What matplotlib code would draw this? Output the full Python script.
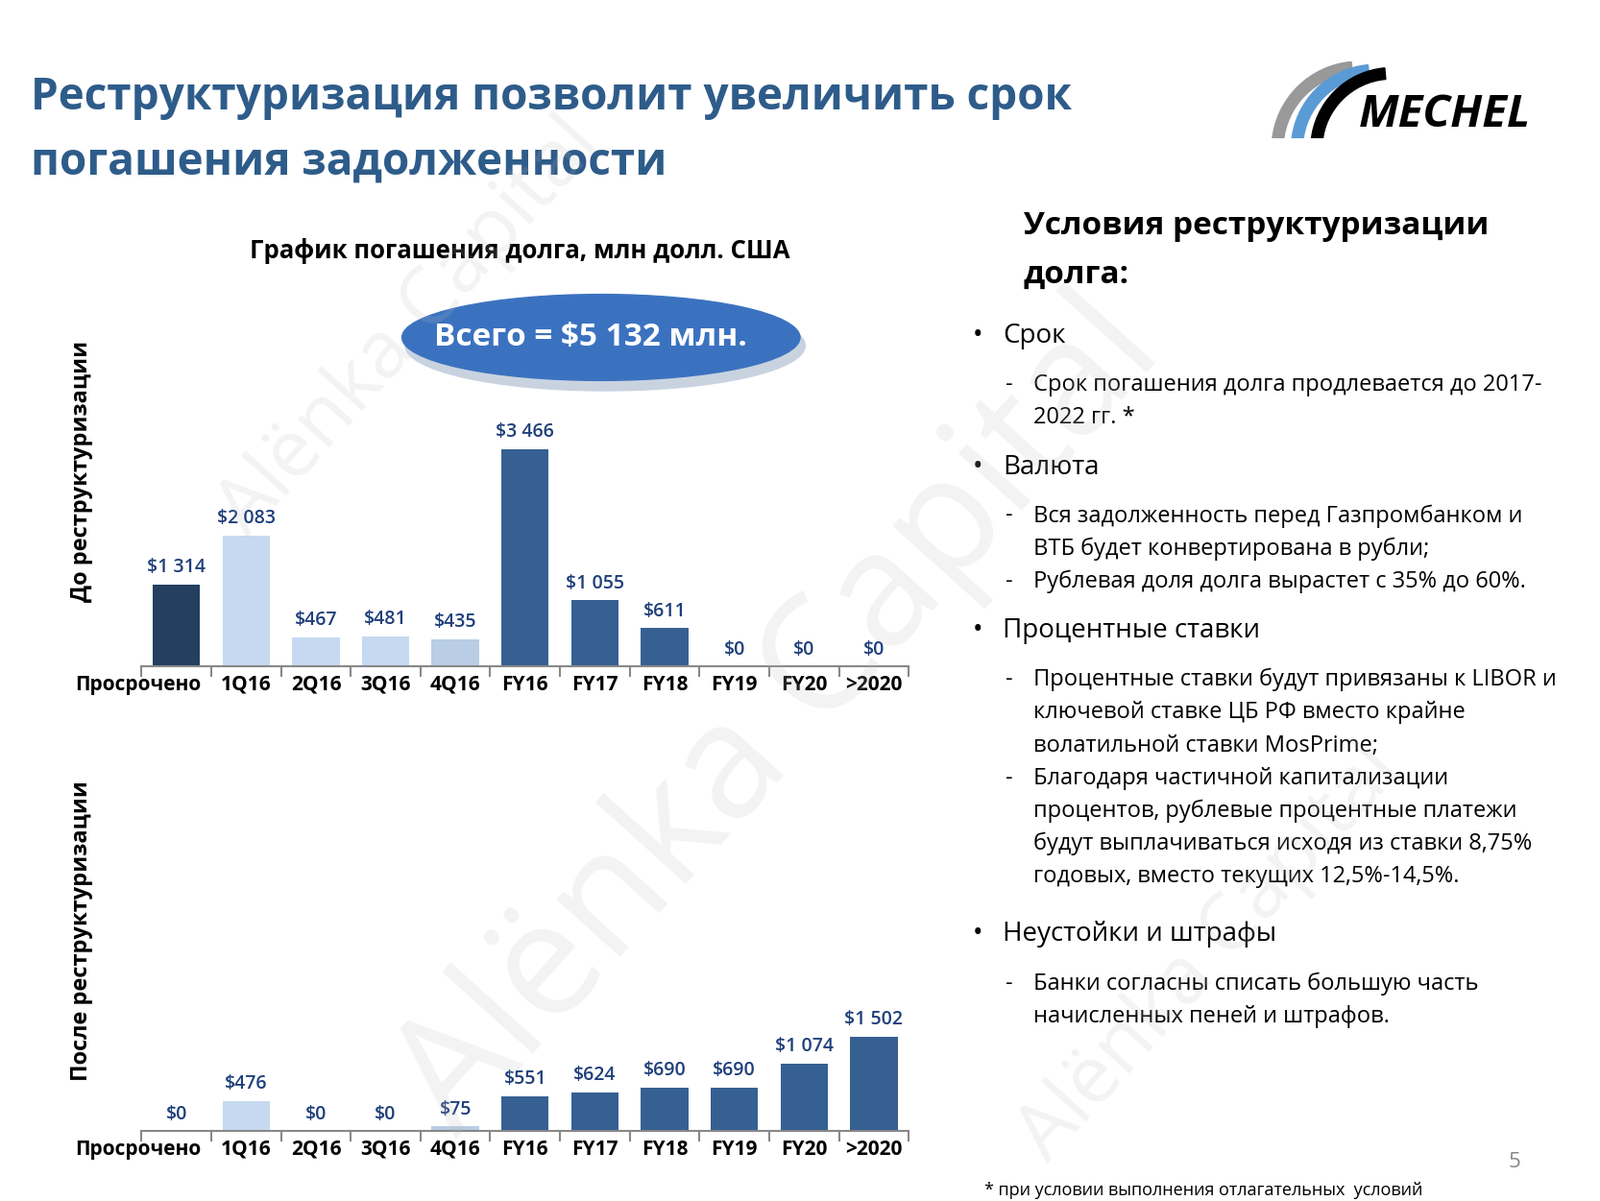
import matplotlib
matplotlib.use("Agg")
import matplotlib.pyplot as plt
from matplotlib.patches import Ellipse, Wedge
import numpy as np

categories = ["Просрочено", "1Q16", "2Q16", "3Q16", "4Q16", "FY16", "FY17", "FY18", "FY19", "FY20", ">2020"]
before = [1314, 2083, 467, 481, 435, 3466, 1055, 611, 0, 0, 0]
after = [0, 476, 0, 0, 75, 551, 624, 690, 690, 1074, 1502]
before_labels = ["$1 314", "$2 083", "$467", "$481", "$435", "$3 466", "$1 055", "$611", "$0", "$0", "$0"]
after_labels = ["$0", "$476", "$0", "$0", "$75", "$551", "$624", "$690", "$690", "$1 074", "$1 502"]

NAVY = "#243F60"; LIGHT = "#C6D9F1"; LIGHT2 = "#B9CDE5"; MID = "#366092"
before_colors = [NAVY, LIGHT, LIGHT, LIGHT, LIGHT2, MID, MID, MID, MID, MID, MID]
after_colors = [NAVY, LIGHT, LIGHT, LIGHT, LIGHT2, MID, MID, MID, MID, MID, MID]
LBL = "#1F3F7A"
FONT = "Open Sans"
plt.rcParams["font.family"] = FONT

W, H = 1560, 1171
fig = plt.figure(figsize=(16.66, 12.51), dpi=100)
def fx(x): return x / W
def fy(y): return 1 - y / H

fig.text(fx(30), fy(95), "Реструктуризация позволит увеличить срок", fontsize=33, fontweight="bold",
         color="#2E5C8A", va="center")
fig.text(fx(30), fy(158), "погашения задолженности", fontsize=33, fontweight="bold",
         color="#2E5C8A", va="center")
fig.text(fx(1325), fy(112), "MECHEL", fontsize=34, fontweight="bold", style="italic",
         color="black", va="center")
lg = fig.add_axes([fx(1235), fy(135), fx(130), 75 / H]); lg.set_xlim(0, 13); lg.set_ylim(0, 7.5); lg.axis("off")
for i, c in enumerate(["#999999", "#5B9BD5", "#000000"]):
    lg.add_patch(Wedge((9 + i * 1.6, -1), 8.5 - i * 0.3, 95, 175, width=1.1, color=c))

fig.text(fx(507), fy(245), "График погашения долга, млн долл. США", fontsize=18.5, fontweight="bold",
         ha="center", va="center")

def draw(ax, vals, labels, colors):
    x = np.arange(len(vals))
    ax.bar(x, vals, width=0.68, color=colors, zorder=2)
    ax.set_ylim(0, 5720)
    for s in ["top", "right", "left"]:
        ax.spines[s].set_visible(False)
    ax.spines["bottom"].set_color("#888888")
    ax.spines["bottom"].set_linewidth(1.5)
    ax.set_yticks([])
    ax.set_xticks(x)
    ax.set_xticklabels([""] + categories[1:], fontsize=15, fontweight="bold")
    ax.tick_params(axis="x", length=0, pad=6)
    ax.text(-0.55, -130, categories[0], fontsize=15, fontweight="bold", ha="center", va="top")
    for b in np.arange(-0.5, len(vals), 1.0):
        ax.plot([b, b], [0, -150], color="#888888", lw=1.5, clip_on=False)
    for xi, v, l in zip(x, vals, labels):
        ax.text(xi, v + 120, l, ha="center", va="bottom", fontsize=14, fontweight="semibold", color=LBL)
    ax.patch.set_alpha(0)

x0, x1 = 138, 886
unit = (x1 - x0) / 11
left = x0 - 0.5 * unit
width = 12 * unit
ax1 = fig.add_axes([fx(left), fy(650), width / W, 350 / H])
ax2 = fig.add_axes([fx(left), fy(1103), width / W, 350 / H])
draw(ax1, before, before_labels, before_colors)
draw(ax2, after, after_labels, after_colors)
for a in (ax1, ax2):
    a.set_xlim(-1.0, 11.0)
    a.spines["bottom"].set_bounds(-0.5, 10.5)

fig.text(fx(80), fy(460), "До реструктуризации", rotation=90, fontsize=17, fontweight="bold",
         ha="center", va="center")
fig.text(fx(80), fy(908), "После реструктуризации", rotation=90, fontsize=17, fontweight="bold",
         ha="center", va="center")

ea = fig.add_axes([0, 0, 1, 1]); ea.set_xlim(0, W); ea.set_ylim(H, 0); ea.axis("off")
ea.add_patch(Ellipse((590, 337), 390, 88, color="#C9D3E0", zorder=1))
ea.add_patch(Ellipse((586, 329), 388, 84, color="#3B72C0", zorder=2))
ea.text(576, 329, "Всего = $5 132 млн.", color="white", fontsize=24, fontweight="bold",
        ha="center", va="center", zorder=3)

fig.text(fx(998), fy(220), "Условия реструктуризации", fontsize=24, fontweight="bold", va="center")
fig.text(fx(998), fy(268), "долга:", fontsize=24, fontweight="bold", va="center")
bullets = [
    (328, "•", "Срок", 20),
    (375, "-", "Срок погашения долга продлевается до 2017-", 17),
    (407, "", "2022 гг. *", 17),
    (456, "•", "Валюта", 20),
    (503, "-", "Вся задолженность перед Газпромбанком и", 17),
    (535, "", "ВТБ будет конвертирована в рубли;", 17),
    (567, "-", "Рублевая доля долга вырастет с 35% до 60%.", 17),
    (615, "•", "Процентные ставки", 20),
    (663, "-", "Процентные ставки будут привязаны к LIBOR и", 17),
    (695, "", "ключевой ставке ЦБ РФ вместо крайне", 17),
    (727, "", "волатильной ставки MosPrime;", 17),
    (759, "-", "Благодаря частичной капитализации", 17),
    (791, "", "процентов, рублевые процентные платежи", 17),
    (823, "", "будут выплачиваться исходя из ставки 8,75%", 17),
    (855, "", "годовых, вместо текущих 12,5%-14,5%.", 17),
    (911, "•", "Неустойки и штрафы", 20),
    (959, "-", "Банки согласны списать большую часть", 17),
    (991, "", "начисленных пеней и штрафов.", 17),
]
for y, mark, txt, fs in bullets:
    if fs == 20:
        fig.text(fx(948), fy(y), mark, fontsize=fs, va="center")
        fig.text(fx(978), fy(y), txt, fontsize=fs, va="center")
    else:
        if mark:
            fig.text(fx(980), fy(y), mark, fontsize=fs, va="center")
        fig.text(fx(1008), fy(y), txt, fontsize=fs, va="center")

fig.text(fx(1477), fy(1133), "5", fontsize=16, color="#888888", ha="center", va="center")
fig.text(fx(960), fy(1161), "* при условии выполнения отлагательных  условий", fontsize=13, va="center")

# watermark (semi-transparent, on top like the reference)
for (x, y, s) in [(760, 700, 120), (400, 320, 60), (1180, 930, 60)]:
    fig.text(fx(x), fy(y), "Alënka Capital", fontsize=s, color="#BBBBBB", alpha=0.18, rotation=48,
             ha="center", va="center", zorder=10)

fig.savefig("out.png", dpi=100)
